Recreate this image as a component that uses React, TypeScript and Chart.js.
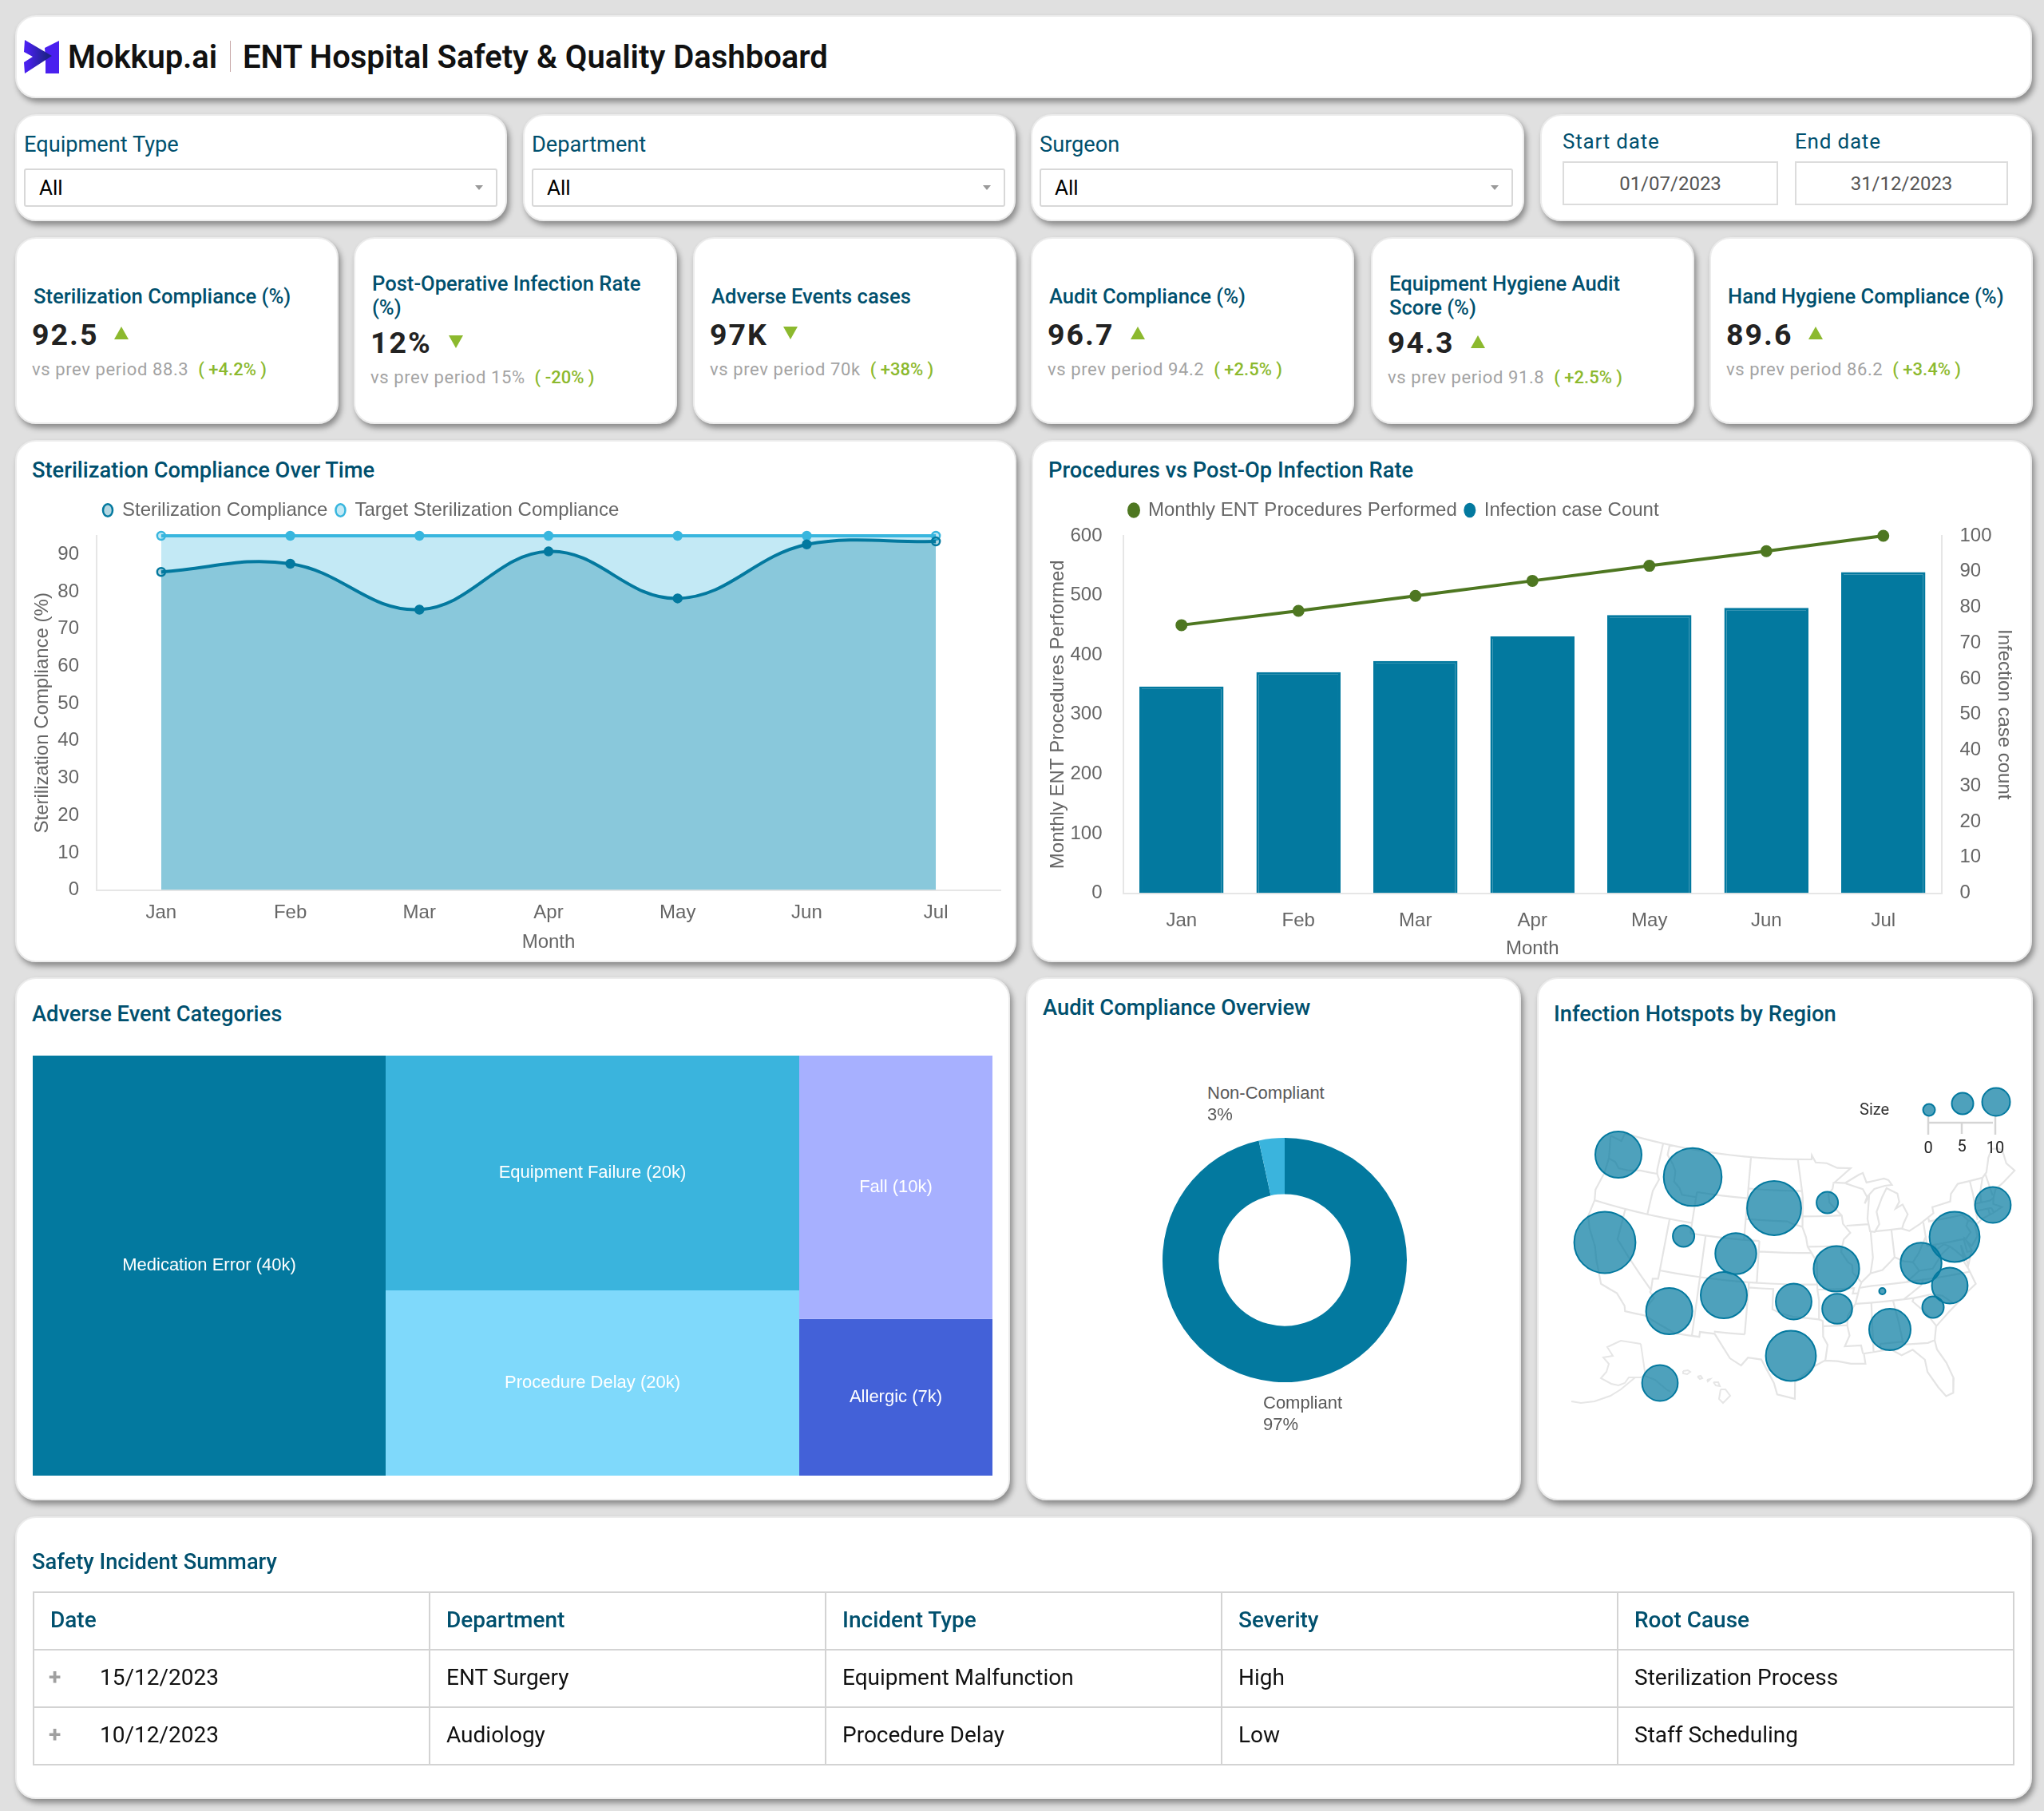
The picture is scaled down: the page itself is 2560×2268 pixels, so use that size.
import * as React from "react";
import { useEffect, useRef } from "react";
import { Chart, registerables } from "chart.js";

Chart.register(...registerables);

const months = ["Jan", "Feb", "Mar", "Apr", "May", "Jun", "Jul"];
const complianceValues = [85.3, 87.5, 75.2, 90.8, 78.2, 92.7, 93.5];
const targetValues = [95, 95, 95, 95, 95, 95, 95];
const procedureBars = [347, 371, 390, 431, 467, 479, 539];
const procedureLine = [75, 79, 83.2, 87.4, 91.6, 95.7, 100];

const eventLabels = ["Medication Error (40k)", "Equipment Failure (20k)", "Procedure Delay (20k)", "Fall (10k)", "Allergic (7k)"];
const eventAreas = [36.77, 24.09, 19.0, 12.62, 7.51];
const eventColors = ["#03799f", "#3ab4dd", "#7fd9fb", "#a7b0ff", "#4361d8"];
const eventColumns = [[0], [1, 2], [3, 4]];

const auditLabels = ["Compliant", "Non-Compliant"];
const auditValues = [96.6, 3.4];

const regionX = [107, 200, 302, 368.6, 90, 188.6, 254, 380, 239, 170.6, 326.5, 381, 323, 447, 437.5, 486, 528, 522, 501, 576, 159];
const regionY = [226, 254, 293, 286, 336, 328, 350, 369, 402, 422, 410, 419, 478, 445, 397, 362, 329, 390, 417, 289, 512];
const regionSize = [29, 36.3, 33.9, 13.5, 38.4, 13.5, 25.7, 28.6, 29, 29, 22.4, 18.8, 31.4, 26, 4, 25.7, 31.4, 22.4, 13.5, 22.4, 22.4];
const sizeKeyX = [496, 538, 580];
const sizeKeyY = [170, 162, 160];
const sizeKeyR = [7.5, 13.5, 17.5];

// lon/lat polylines of the lower 48
const stateBorders: number[][][] = [
  [[-124.7,48.4],[-123,48.2],[-122.8,49],[-95.2,49],[-95.15,49.4],[-94.6,48.7],[-93,48.6],[-91.5,48.1],[-89.6,48],[-92,46.7],[-90.5,46.6],[-88.5,47.3],[-87.9,47.45],[-87.5,46.5],[-85,46.7],[-84.4,46.5],[-84,46],[-85,46],[-86.5,45.8],[-87.6,45.1],[-88,44.5],[-87.3,45.2],[-87.8,43],[-87.6,41.8],[-87,41.7],[-86.3,42.4],[-86.5,43.6],[-85.5,45],[-84.8,45.75],[-83.4,45.1],[-83.3,44.3],[-83.9,43.7],[-82.9,44],[-82.4,43],[-83.1,42.2],[-83.4,41.7],[-82.5,41.4],[-81,41.9],[-79,42.7],[-79,43.3],[-76.5,43.5],[-76.2,44.2],[-75,45],[-71.5,45],[-70.8,45.4],[-70.3,46.2],[-70,46.7],[-69.2,47.45],[-68.3,47.3],[-67.8,47],[-67.8,45.7],[-67,44.8],[-69,44],[-70.2,43.6],[-70.8,42.8],[-71,42.3],[-70,41.8],[-71.2,41.5],[-72.9,41.2],[-74,40.7],[-74,39.7],[-75,38.9],[-75.5,39.5],[-75.1,38.5],[-75.9,37.2],[-76.3,39.2],[-76.3,37.5],[-76,36.9],[-75.5,35.3],[-76.7,34.7],[-78,33.9],[-79.2,33.2],[-81,32],[-81.4,30.7],[-81.3,29.8],[-80.5,28.4],[-80,26.8],[-80.3,25.4],[-81.1,25.2],[-81.8,26.2],[-82.7,27.8],[-82.8,29],[-84,30.1],[-85.3,29.7],[-86.5,30.4],[-88,30.3],[-89.5,30.2],[-89.4,29.2],[-91,29.3],[-92.5,29.6],[-93.9,29.7],[-95,29.2],[-97.2,27.7],[-97.2,26],[-99.1,26.4],[-99.5,27.5],[-101,29.7],[-102.5,29.8],[-103.2,29],[-104.5,29.6],[-106.5,31.8],[-108.2,31.8],[-108.2,31.33],[-111,31.33],[-114.8,32.5],[-117.1,32.5],[-117.3,33],[-118.5,34],[-120.6,34.5],[-121.9,36.6],[-122.5,37.8],[-123.8,39.3],[-124.4,40.4],[-124.2,42],[-124.5,43],[-124,44.8],[-124,46.3],[-124.7,48.4]],
  [[-124,46.25],[-123,46.1],[-122.3,45.6],[-121,45.65],[-119.3,45.93],[-116.92,46]],
  [[-117.03,49],[-117.04,46.4],[-116.92,46],[-116.5,45.5],[-117,44.3],[-117.03,42]],
  [[-116.05,49],[-116.05,48],[-115,47.2],[-114.5,46.6],[-114.4,45.6],[-113.5,45.1],[-113,44.5],[-111.05,44.5]],
  [[-111.05,45],[-111.05,41]],
  [[-124.2,42],[-111.05,42]],
  [[-120,42],[-120,39],[-114.63,35],[-114.7,34.8],[-114.1,34.3],[-114.7,33.4],[-114.7,32.7]],
  [[-114.04,42],[-114.04,37],[-114.05,36.2],[-114.7,36.1],[-114.63,35]],
  [[-114.04,37],[-94.62,37]],
  [[-109.05,41],[-109.05,31.33]],
  [[-111.05,45],[-104.05,45]],
  [[-111.05,41],[-102.05,41]],
  [[-104.05,49],[-104.05,41]],
  [[-104.05,45.94],[-96.56,45.94]],
  [[-104.05,43],[-98.5,43],[-97.9,42.8],[-96.5,42.5]],
  [[-102.05,41],[-102.05,37]],
  [[-102.05,40],[-95.3,40]],
  [[-103,37],[-103,36.5],[-103.06,32]],
  [[-103,36.5],[-100,36.5],[-100,34.56],[-99,34.2],[-97.5,33.9],[-96,33.8],[-94.5,33.65],[-94.04,33.5]],
  [[-103.06,32],[-106.6,32]],
  [[-97.2,49],[-96.56,45.94],[-96.45,45.3],[-96.45,43.5],[-96.5,42.5]],
  [[-96.45,43.5],[-91.2,43.5]],
  [[-96.5,42.5],[-96,41.5],[-95.8,40.6],[-95.3,40],[-94.62,39.1],[-94.62,36.5]],
  [[-95.8,40.6],[-91.7,40.6],[-91.4,40.4]],
  [[-94.62,36.5],[-90.15,36.5],[-90.35,36],[-89.7,36]],
  [[-94.62,36.5],[-94.43,35.4],[-94.48,33.65]],
  [[-94.04,33.55],[-94.04,33],[-91.2,33]],
  [[-94.04,33],[-94.04,32],[-93.55,31.2],[-93.85,29.7]],
  [[-92.1,46.75],[-92.3,46.1],[-92.9,45.6],[-92.8,44.8],[-91.2,43.5],[-91.1,42.7],[-90.2,41.8],[-91.1,41.2],[-91.4,40.4],[-91.5,40],[-90.7,39],[-90.2,38.7],[-90.2,38],[-89.2,37],[-89.5,36.5],[-89.7,36],[-90.1,35],[-91.1,33.9],[-91.2,33],[-91,32],[-91.6,31],[-89.75,31],[-89.6,30.2]],
  [[-90.65,42.5],[-87.8,42.5]],
  [[-90.4,46.55],[-88.1,45.9],[-87.6,45.1]],
  [[-87.53,41.7],[-87.53,39.3],[-88,37.8]],
  [[-89.2,37],[-88,37.8],[-86.5,38],[-85.4,38.7],[-84.8,39.1],[-83.7,38.6],[-82.6,38.4],[-82,37.5]],
  [[-84.8,41.7],[-84.8,39.1]],
  [[-87,41.75],[-83.4,41.73]],
  [[-80.52,42],[-80.52,40.6],[-80.7,40.4],[-81.7,39.2],[-82.6,38.4]],
  [[-79.76,42.3],[-79.76,42],[-75.35,42],[-74.7,41.36]],
  [[-80.52,39.72],[-75.8,39.72],[-75.6,39.85]],
  [[-80.52,40.6],[-80.52,39.72]],
  [[-74.7,41.36],[-75.1,40.9],[-74.75,40.2],[-75.5,39.7]],
  [[-74.7,41.36],[-73.9,41]],
  [[-75.8,39.72],[-75.7,38.45],[-75.05,38.45]],
  [[-76.3,38],[-77.1,38.8],[-77.7,39.3],[-78.4,39.6],[-79.5,39.2],[-79.5,39.72]],
  [[-77.7,39.3],[-78.9,38.7],[-80.3,37.5],[-82,37.5]],
  [[-82,37.5],[-83.7,36.6],[-81.7,36.6],[-75.9,36.55]],
  [[-83.7,36.6],[-88,36.6],[-89.4,36.5]],
  [[-81.7,36.6],[-82,36.1],[-84.3,35]],
  [[-90.1,35],[-83.1,35]],
  [[-83.1,35],[-81,35.1],[-79.7,34.8],[-78.5,33.85]],
  [[-83.1,35],[-83.3,34.7],[-81.9,33.4],[-81,32.1]],
  [[-85.6,35],[-85.2,32.8],[-85,31],[-84.9,30.7]],
  [[-87.6,31],[-85,31],[-84.9,30.7],[-82.2,30.55],[-81.5,30.7]],
  [[-87.6,31],[-87.5,30.3]],
  [[-88.2,35],[-88.4,30.3]],
  [[-73.3,45],[-73.3,43.6],[-73.5,42.05],[-73.5,41.2]],
  [[-73.5,42.05],[-71.4,42]],
  [[-73.3,42.75],[-71.3,42.7],[-70.8,42.85]],
  [[-71.5,45],[-72.3,43.7],[-72.5,42.75]],
  [[-71,45.3],[-70.8,43.1]],
  [[-71.8,42],[-71.8,41.35]],
  [[-71.4,42],[-71.2,41.5]],
];

// Alaska and Hawaii insets, already in map units
const insetOutlines: number[][][] = [
  [[135,463],[110,459],[93,467],[100,478],[88,480],[95,488],[92,498],[85,506],[98,513],[107,515],[115,512],[120,505],[128,505],[110,520],[97,528],[77,535],[60,537],[48,535]],
  [[135,463],[140,497],[140,503],[153,508],[167,520],[172,523]],
  [[128,505],[135,505],[140,503]],
  [[188,497],[194,496],[197,498],[193,501],[188,500],[188,497]],
  [[206,504],[210,503],[212,506],[209,507],[206,504]],
  [[218,508],[222,507],[219,510],[218,508]],
  [[226,511],[232,511],[234,516],[229,515],[226,511]],
  [[235,520],[241,520],[247,528],[238,537],[233,532],[235,520]],
];

const sizeScaleLines: number[][][] = [
  [[495,186],[576,186]],
  [[495,178],[495,201]],
  [[537,186],[537,200]],
  [[579,178],[579,201]],
];

const filterTitles = ["Equipment Type", "Department", "Surgeon"];
const filterLefts = [19, 655, 1291];

const kpiLefts = [19, 443, 868, 1291, 1717, 2141];
const kpiTitles = [
  ["Sterilization Compliance (%)"],
  ["Post-Operative Infection Rate", "(%)"],
  ["Adverse Events cases"],
  ["Audit Compliance (%)"],
  ["Equipment Hygiene Audit", "Score (%)"],
  ["Hand Hygiene Compliance (%)"],
];
const kpiValues = ["92.5", "12%", "97K", "96.7", "94.3", "89.6"];
const kpiArrowUp = [true, false, false, true, true, true];
const kpiArrowOffset = [124, 119, 113, 125, 125, 124];
const kpiPrev = ["88.3", "15%", "70k", "94.2", "91.8", "86.2"];
const kpiDelta = ["+4.2%", "-20%", "+38%", "+2.5%", "+2.5%", "+3.4%"];

const tableHead = ["Date", "Department", "Incident Type", "Severity", "Root Cause"];
const tableRows = [
  ["15/12/2023", "ENT Surgery", "Equipment Malfunction", "High", "Sterilization Process"],
  ["10/12/2023", "Audiology", "Procedure Delay", "Low", "Staff Scheduling"],
];

const TEAL = "#03799f";
const SKY = "#38b6de";
const TITLE = "#00506e";
const GREY = "#666666";
const AXIS = "#e6e6e6";
const ROBOTO = "Roboto, sans-serif";
const ARIAL = "'Liberation Sans', Arial, sans-serif";

function albers(lon: number, lat: number) {
  const rad = Math.PI / 180;
  const p1 = 29.5 * rad;
  const p2 = 45.5 * rad;
  const n = (Math.sin(p1) + Math.sin(p2)) / 2;
  const c = Math.cos(p1) * Math.cos(p1) + 2 * n * Math.sin(p1);
  const rho = (v: number) => Math.sqrt(c - 2 * n * Math.sin(v * rad)) / n;
  const theta = n * (lon + 96) * rad;
  return {
    x: 342 + 740 * rho(lat) * Math.sin(theta),
    y: 382 - 745 * (rho(37.5) - rho(lat) * Math.cos(theta)),
  };
}

function borderPoints() {
  const pts: { x: number; y: number }[] = [];
  stateBorders.forEach((line) => {
    line.forEach((p, i) => {
      if (i > 0) {
        const [a, b] = line[i - 1];
        const steps = Math.ceil(Math.abs(p[0] - a) / 2) || 1;
        for (let s = 1; s < steps; s++) pts.push(albers(a + ((p[0] - a) * s) / steps, b + ((p[1] - b) * s) / steps));
      }
      pts.push(albers(p[0], p[1]));
    });
    pts.push({ x: NaN, y: NaN });
  });
  return pts;
}

function flatLines(lines: number[][][]) {
  const pts: { x: number; y: number }[] = [];
  lines.forEach((line) => {
    line.forEach((p) => pts.push({ x: p[0], y: p[1] }));
    pts.push({ x: NaN, y: NaN });
  });
  return pts;
}

function placeLegend(x: number, y: number) {
  return {
    id: "placeLegend",
    afterLayout(chart: any) {
      chart.legend.left = x;
      chart.legend.top = y;
    },
  };
}

function fixSize(size: number, vertical: boolean) {
  return (scale: any) => {
    if (vertical) scale.width = size;
    else scale.height = size;
  };
}

const axisFont = { family: ARIAL, size: 24 };

function legendOptions(boxHeight: number) {
  return {
    display: true,
    align: "start",
    labels: {
      usePointStyle: true,
      pointStyle: "circle",
      pointStyleWidth: 12,
      boxHeight,
      padding: 10,
      color: GREY,
      font: axisFont,
    },
  };
}

// end points look open in the picture, the inner ones solid
function pointFill(solid: string, light: string) {
  return months.map((_, i) => (i === 0 || i === months.length - 1 ? light : solid));
}

function lineConfig() {
  return {
    type: "line",
    data: {
      labels: months,
      datasets: [
        {
          label: "Sterilization Compliance",
          data: complianceValues,
          borderColor: TEAL,
          backgroundColor: "rgba(3,121,160,0.3)",
          pointBackgroundColor: pointFill(TEAL, "rgba(3,121,160,0.3)"),
          pointBorderColor: TEAL,
          borderWidth: 4,
          pointRadius: 5,
          pointBorderWidth: 2.5,
          fill: "origin",
          tension: 0.4,
          clip: false,
        },
        {
          label: "Target Sterilization Compliance",
          data: targetValues,
          borderColor: SKY,
          backgroundColor: "rgba(56,182,222,0.3)",
          pointBackgroundColor: pointFill(SKY, "rgba(56,182,222,0.3)"),
          pointBorderColor: SKY,
          borderWidth: 4,
          pointRadius: 5,
          pointBorderWidth: 2.5,
          fill: "origin",
          tension: 0,
          clip: false,
        },
      ],
    },
    options: {
      animation: false,
      responsive: false,
      events: [],
      layout: { padding: { left: 19.6, right: 20, top: 76, bottom: 10.6 } },
      plugins: { legend: legendOptions(11), tooltip: { enabled: false } },
      scales: {
        x: {
          offset: true,
          afterFit: fixSize(79.8, false),
          grid: { display: false },
          border: { color: AXIS, width: 2 },
          ticks: { color: GREY, font: axisFont, padding: 6, maxRotation: 0 },
          title: { display: true, text: "Month", color: GREY, font: axisFont, padding: 0 },
        },
        y: {
          min: 0,
          max: 95,
          afterFit: fixSize(82.4, true),
          grid: { display: false },
          border: { color: AXIS, width: 2 },
          ticks: { stepSize: 10, includeBounds: false, autoSkip: false, color: GREY, font: axisFont, padding: 14 },
          title: { display: true, text: "Sterilization Compliance (%)", color: GREY, font: axisFont, padding: 0 },
        },
      },
    },
    plugins: [placeLegend(100, 66)],
  };
}

function comboConfig() {
  return {
    type: "bar",
    data: {
      labels: months,
      datasets: [
        {
          type: "line",
          label: "Monthly ENT Procedures Performed",
          data: procedureLine,
          yAxisID: "y1",
          borderColor: "#4e7721",
          backgroundColor: "#4e7721",
          borderWidth: 4,
          pointRadius: 5.5,
          pointStyle: "circle",
          tension: 0,
          clip: false,
        },
        {
          type: "bar",
          label: "Infection case Count",
          data: procedureBars,
          yAxisID: "y",
          backgroundColor: TEAL,
          borderColor: TEAL,
          borderWidth: 3,
          pointStyle: "circle",
        },
      ],
    },
    options: {
      animation: false,
      responsive: false,
      events: [],
      layout: { padding: { left: 18.6, right: 20.6, top: 76, bottom: 2.6 } },
      plugins: { legend: legendOptions(11), tooltip: { enabled: false } },
      scales: {
        x: {
          afterFit: fixSize(83.9, false),
          grid: { display: false },
          border: { color: AXIS, width: 2 },
          ticks: { color: GREY, font: axisFont, padding: 12, maxRotation: 0 },
          title: { display: true, text: "Month", color: GREY, font: axisFont, padding: 0 },
        },
        y: {
          min: 0,
          max: 600,
          afterFit: fixSize(95.9, true),
          grid: { display: false },
          border: { color: AXIS, width: 2 },
          ticks: { stepSize: 100, color: GREY, font: axisFont, padding: 18 },
          title: { display: true, text: "Monthly ENT Procedures Performed", color: GREY, font: axisFont, padding: 0 },
        },
        y1: {
          position: "right",
          min: 0,
          max: 100,
          afterFit: fixSize(92.4, true),
          grid: { display: false },
          border: { color: AXIS, width: 2 },
          ticks: { stepSize: 10, color: GREY, font: axisFont, padding: 14.5 },
          title: { display: true, text: "Infection case count", color: GREY, font: axisFont, padding: 0 },
        },
      },
    },
    plugins: [placeLegend(112, 66)],
  };
}

function treemapConfig() {
  const total = eventAreas.reduce((a, b) => a + b, 0);
  const cells: { index: number; x0: number; x1: number; y0: number; y1: number }[] = [];
  let left = 0;
  eventColumns.forEach((col) => {
    const sum = col.reduce((a, i) => a + eventAreas[i], 0);
    let top = 0;
    col.forEach((i) => {
      const bottom = top + eventAreas[i] / sum;
      cells.push({ index: i, x0: left, x1: left + sum / total, y0: top, y1: bottom });
      top = bottom;
    });
    left += sum / total;
  });
  return {
    type: "line",
    data: {
      datasets: cells.map((c) => ({
        label: eventLabels[c.index],
        data: [
          { x: c.x0, y: c.y1 },
          { x: c.x1, y: c.y1 },
        ],
        borderWidth: 0,
        pointRadius: 0,
        tension: 0,
        backgroundColor: eventColors[c.index],
        fill: { value: c.y0 },
      })),
    },
    options: {
      animation: false,
      responsive: false,
      events: [],
      layout: { padding: 0 },
      plugins: { legend: { display: false }, tooltip: { enabled: false } },
      scales: {
        x: { type: "linear", display: false, min: 0, max: 1 },
        y: { display: false, min: 0, max: 1, reverse: true },
      },
    },
    plugins: [
      {
        id: "cellLabels",
        afterDatasetsDraw(chart: any) {
          const { ctx, scales } = chart;
          ctx.save();
          ctx.fillStyle = "#ffffff";
          ctx.font = `22px ${ARIAL}`;
          ctx.textAlign = "center";
          ctx.textBaseline = "middle";
          cells.forEach((c) => {
            const x = scales.x.getPixelForValue((c.x0 + c.x1) / 2);
            const y = scales.y.getPixelForValue((c.y0 + c.y1) / 2);
            ctx.fillText(eventLabels[c.index], x, y);
          });
          ctx.restore();
        },
      },
    ],
  };
}

function donutConfig() {
  return {
    type: "doughnut",
    data: {
      labels: auditLabels,
      datasets: [{ data: auditValues, backgroundColor: [TEAL, "#3ab4dd"], borderWidth: 0 }],
    },
    options: {
      animation: false,
      responsive: false,
      events: [],
      cutout: "54%",
      layout: { padding: 0 },
      plugins: { legend: { display: false }, tooltip: { enabled: false } },
    },
  };
}

function mapConfig() {
  const lineBase = { type: "line", pointRadius: 0, tension: 0, fill: false, order: 2 };
  return {
    type: "bubble",
    data: {
      datasets: [
        { ...lineBase, label: "States", data: borderPoints(), borderColor: "#e4e4e4", borderWidth: 2.2 },
        { ...lineBase, label: "Insets", data: flatLines(insetOutlines), borderColor: "#e6e6e6", borderWidth: 2 },
        { ...lineBase, label: "Size scale", data: flatLines(sizeScaleLines), borderColor: "#d5d5d5", borderWidth: 2.5 },
        {
          label: "Regions",
          order: 1,
          data: regionX.map((x, i) => ({ x, y: regionY[i], r: regionSize[i] })),
          backgroundColor: "rgba(3,121,160,0.7)",
          borderColor: TEAL,
          borderWidth: 2,
        },
        {
          label: "Size key",
          order: 1,
          data: sizeKeyX.map((x, i) => ({ x, y: sizeKeyY[i], r: sizeKeyR[i] })),
          backgroundColor: "rgba(3,121,160,0.7)",
          borderColor: TEAL,
          borderWidth: 2,
        },
      ],
    },
    options: {
      animation: false,
      responsive: false,
      events: [],
      layout: { padding: 0, autoPadding: false },
      plugins: { legend: { display: false }, tooltip: { enabled: false } },
      scales: {
        x: { type: "linear", display: false, min: 0, max: 640 },
        y: { type: "linear", display: false, min: 0, max: 680, reverse: true },
      },
    },
  };
}

function ChartBox({ left, top, width, height, config }: { left: number; top: number; width: number; height: number; config: () => any }) {
  const canvasRef = useRef<HTMLCanvasElement>(null);
  useEffect(() => {
    const chart = new Chart(canvasRef.current as HTMLCanvasElement, config());
    return () => {
      chart.destroy();
    };
  }, [config]);
  return <canvas ref={canvasRef} width={width} height={height} style={{ position: "absolute", left, top, width, height }} />;
}

function Card({ left, top, right, bottom }: { left: number; top: number; right: number; bottom: number }) {
  return (
    <div
      style={{
        position: "absolute",
        left,
        top,
        width: right - left,
        height: bottom - top,
        background: "#fff",
        borderRadius: 26,
        border: "2px solid #ececec",
        boxSizing: "border-box",
        boxShadow: "3px 5px 7px rgba(0,0,0,0.38)",
      }}
    />
  );
}

function Label({ x, y, size, color, weight, font, spacing, align, children }: any) {
  return (
    <div
      style={{
        position: "absolute",
        left: align === "center" ? x - 300 : x,
        width: align === "center" ? 600 : undefined,
        textAlign: align || "left",
        top: y - 30,
        height: 60,
        lineHeight: "60px",
        fontSize: size,
        color,
        fontWeight: weight || 400,
        fontFamily: font || ROBOTO,
        letterSpacing: spacing || 0,
        whiteSpace: "nowrap",
      }}
    >
      {children}
    </div>
  );
}

function Arrow({ x, y, up }: { x: number; y: number; up: boolean }) {
  return (
    <div
      style={{
        position: "absolute",
        left: x,
        top: y - 8,
        width: 0,
        height: 0,
        borderLeft: "9px solid transparent",
        borderRight: "9px solid transparent",
        borderBottom: up ? "16px solid #8cb92e" : undefined,
        borderTop: up ? undefined : "16px solid #8cb92e",
      }}
    />
  );
}

function Filter({ left, title }: { left: number; title: string }) {
  return (
    <>
      <Card left={left} top={143} right={left + (left === 19 ? 616 : left === 655 ? 617 : 618)} bottom={277} />
      <Label x={left + 11} y={181} size={27.2} color={TITLE}>{title}</Label>
      <div style={{ position: "absolute", left: left + 11, top: 211, width: 593, height: 48, boxSizing: "border-box", border: "2px solid #d8d8d8", borderRadius: 3 }} />
      <Label x={left + 30} y={235} size={26} color="#000">All</Label>
      <div style={{ position: "absolute", left: left + 576, top: 232, width: 0, height: 0, borderLeft: "5px solid transparent", borderRight: "5px solid transparent", borderTop: "6px solid #999" }} />
    </>
  );
}

function DateBox({ left, right, title, value }: { left: number; right: number; title: string; value: string }) {
  return (
    <>
      <Label x={left} y={177} size={26} color={TITLE} spacing={0.8}>{title}</Label>
      <div style={{ position: "absolute", left, top: 202, width: right - left, height: 55, boxSizing: "border-box", border: "2px solid #dcdcdc" }} />
      <Label x={(left + right) / 2} y={230} size={24} color="#555" align="center">{value}</Label>
    </>
  );
}

function Kpi({ i }: { i: number }) {
  const left = kpiLefts[i];
  const titles = kpiTitles[i];
  const two = titles.length > 1;
  const valueY = two ? 429 : 419;
  const subY = two ? 472.5 : 463;
  return (
    <>
      <Card left={left} top={297} right={left + 405} bottom={531} />
      {two ? (
        <>
          <Label x={left + 23} y={355} size={25.6} weight={500} color={TITLE}>{titles[0]}</Label>
          <Label x={left + 23} y={385} size={25.6} weight={500} color={TITLE}>{titles[1]}</Label>
        </>
      ) : (
        <Label x={left + 23} y={371} size={25.6} weight={500} color={TITLE}>{titles[0]}</Label>
      )}
      <Label x={left + 21} y={valueY} size={37.5} weight={700} color="#222" spacing={2}>{kpiValues[i]}</Label>
      <Arrow x={left + kpiArrowOffset[i]} y={two ? 428 : 417} up={kpiArrowUp[i]} />
      <Label x={left + 21} y={subY} size={22} color="#a3a3a3" spacing={0.6}>
        vs prev period {kpiPrev[i]}
        <span style={{ color: "#8cb92e", fontWeight: 500, marginLeft: 12, letterSpacing: 0 }}>( {kpiDelta[i]} )</span>
      </Label>
    </>
  );
}

function Logo() {
  return (
    <svg style={{ position: "absolute", left: 30, top: 50 }} width={44} height={42} viewBox="0 0 44 42">
      <defs>
        <linearGradient id="logoFade" x1="0" x2="1" y1="0" y2="0">
          <stop offset="0.1" stopColor="#4a20ef" />
          <stop offset="0.85" stopColor="#1c2385" />
        </linearGradient>
      </defs>
      <path d="M44 1 L44 42 L27 42 L27 24 L26 10 Z" fill="#4a20ef" />
      <path d="M1 0 L35 20 L1 42 L0 28 L11 21 L0 15 Z" fill="url(#logoFade)" />
    </svg>
  );
}

export default function App() {
  return (
    <div style={{ position: "absolute", left: 0, top: 0, width: 2560, height: 2268, background: "#e0e0e0", overflow: "hidden" }}>
      <Card left={19} top={19} right={2545} bottom={123} />
      <Logo />
      <Label x={85} y={72} size={40} weight={600} color="#111" spacing={-0.1}>Mokkup.ai</Label>
      <div style={{ position: "absolute", left: 288, top: 51, width: 1, height: 39, background: "#c8a8a8" }} />
      <Label x={304} y={72} size={40} weight={600} color="#111">ENT Hospital Safety &amp; Quality Dashboard</Label>

      {filterTitles.map((t, i) => (
        <Filter key={t} left={filterLefts[i]} title={t} />
      ))}
      <Card left={1929} top={143} right={2545} bottom={277} />
      <DateBox left={1957} right={2227} title="Start date" value="01/07/2023" />
      <DateBox left={2248} right={2515} title="End date" value="31/12/2023" />

      {kpiLefts.map((_, i) => (
        <Kpi key={i} i={i} />
      ))}

      <Card left={19} top={551} right={1273} bottom={1205} />
      <Label x={40} y={589} size={27.3} weight={500} color={TITLE}>Sterilization Compliance Over Time</Label>
      <ChartBox left={19} top={551} width={1254} height={654} config={lineConfig} />

      <Card left={1292} top={551} right={2545} bottom={1205} />
      <Label x={1313} y={589} size={27.3} weight={500} color={TITLE}>Procedures vs Post-Op Infection Rate</Label>
      <ChartBox left={1292} top={551} width={1253} height={654} config={comboConfig} />

      <Card left={19} top={1224} right={1265} bottom={1879} />
      <Label x={40} y={1270} size={27.3} weight={500} color={TITLE}>Adverse Event Categories</Label>
      <ChartBox left={41} top={1322} width={1202} height={526} config={treemapConfig} />

      <Card left={1285} top={1224} right={1905} bottom={1879} />
      <Label x={1306} y={1262} size={27.3} weight={500} color={TITLE}>Audit Compliance Overview</Label>
      <ChartBox left={1456} top={1425} width={306} height={306} config={donutConfig} />
      <Label x={1512} y={1369} size={22} color="#595959" font={ARIAL}>Non-Compliant</Label>
      <Label x={1512} y={1396} size={22} color="#595959" font={ARIAL}>3%</Label>
      <Label x={1582} y={1757} size={22} color="#595959" font={ARIAL}>Compliant</Label>
      <Label x={1582} y={1784} size={22} color="#595959" font={ARIAL}>97%</Label>

      <Card left={1925} top={1224} right={2546} bottom={1879} />
      <Label x={1946} y={1270} size={27.3} weight={500} color={TITLE}>Infection Hotspots by Region</Label>
      <ChartBox left={1920} top={1220} width={640} height={680} config={mapConfig} />
      <Label x={2329} y={1389} size={20} color="#333">Size</Label>
      <Label x={2415} y={1437} size={20} color="#222" align="center">0</Label>
      <Label x={2457} y={1435} size={20} color="#222" align="center">5</Label>
      <Label x={2499} y={1437} size={20} color="#222" align="center">10</Label>

      <Card left={19} top={1899} right={2545} bottom={2253} />
      <Label x={40} y={1956} size={27.3} weight={500} color={TITLE}>Safety Incident Summary</Label>
      <table style={{ position: "absolute", left: 41, top: 1993, width: 2482, tableLayout: "fixed", borderCollapse: "collapse", fontFamily: ROBOTO, fontSize: 28 }}>
        <thead>
          <tr style={{ height: 72 }}>
            {tableHead.map((h) => (
              <th key={h} style={{ border: "2px solid #d3d3d3", textAlign: "left", padding: "0 0 3px 20px", color: TITLE, fontWeight: 500 }}>{h}</th>
            ))}
          </tr>
        </thead>
        <tbody>
          {tableRows.map((row) => (
            <tr key={row[0]} style={{ height: 72 }}>
              {row.map((c, i) => (
                <td key={i} style={{ border: "2px solid #d3d3d3", padding: i === 0 ? "0 0 3px 18px" : "0 0 3px 20px", color: "#111" }}>
                  {i === 0 ? <span style={{ color: "#a0a0a0", fontWeight: 700, display: "inline-block", width: 64 }}>+</span> : null}
                  {c}
                </td>
              ))}
            </tr>
          ))}
        </tbody>
      </table>
    </div>
  );
}
